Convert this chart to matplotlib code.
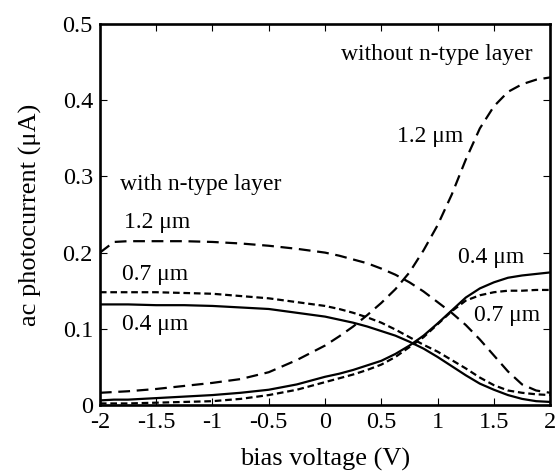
import matplotlib
matplotlib.use("Agg")
import matplotlib.pyplot as plt

plt.rcParams["font.family"] = ["Liberation Serif", "DejaVu Serif"]
plt.rcParams["axes.unicode_minus"] = False

# bias voltage (V) sampled along each curve
bias = [-2.0, -1.875, -1.75, -1.5, -1.25, -1.0, -0.75, -0.5, -0.25, 0.0,
        0.125, 0.25, 0.375, 0.5, 0.625, 0.75, 0.875, 1.0, 1.125, 1.25,
        1.375, 1.5, 1.625, 1.75, 1.875, 2.0]

# ac photocurrent (uA), with n-type layer
with_12 = [0.200, 0.214, 0.215, 0.215, 0.215, 0.214, 0.212, 0.209, 0.205, 0.200,
           0.196, 0.191, 0.186, 0.179, 0.171, 0.161, 0.149, 0.135, 0.121, 0.105,
           0.086, 0.065, 0.044, 0.027, 0.019, 0.016]
with_07 = [0.148, 0.148, 0.148, 0.148, 0.147, 0.146, 0.143, 0.140, 0.135, 0.130,
           0.126, 0.121, 0.115, 0.108, 0.099, 0.089, 0.079, 0.070, 0.059, 0.048,
           0.036, 0.026, 0.019, 0.016, 0.014, 0.013]
with_04 = [0.132, 0.132, 0.132, 0.131, 0.131, 0.130, 0.128, 0.126, 0.121, 0.116,
           0.112, 0.108, 0.103, 0.097, 0.091, 0.083, 0.074, 0.063, 0.051, 0.039,
           0.028, 0.020, 0.013, 0.008, 0.005, 0.004]

# ac photocurrent (uA), without n-type layer
without_12 = [0.016, 0.017, 0.018, 0.021, 0.025, 0.029, 0.034, 0.043, 0.059, 0.078,
              0.090, 0.103, 0.118, 0.134, 0.152, 0.174, 0.203, 0.236, 0.276, 0.322,
              0.363, 0.392, 0.411, 0.421, 0.427, 0.430]
without_07 = [0.002, 0.002, 0.002, 0.003, 0.004, 0.005, 0.008, 0.013, 0.020, 0.030,
              0.035, 0.040, 0.046, 0.053, 0.063, 0.076, 0.089, 0.106, 0.123, 0.137,
              0.144, 0.148, 0.150, 0.150, 0.151, 0.151]
without_04 = [0.006, 0.007, 0.007, 0.009, 0.011, 0.013, 0.016, 0.020, 0.027, 0.037,
              0.041, 0.046, 0.052, 0.058, 0.067, 0.078, 0.091, 0.107, 0.124, 0.141,
              0.153, 0.161, 0.167, 0.170, 0.172, 0.174]

xticks = [-2, -1.5, -1, -0.5, 0, 0.5, 1, 1.5, 2]
xtick_labels = ["-2", "-1.5", "-1", "-0.5", "0", "0.5", "1", "1.5", "2"]
yticks = [0, 0.1, 0.2, 0.3, 0.4, 0.5]
ytick_labels = ["0", "0.1", "0.2", "0.3", "0.4", "0.5"]

LONG = (0, (5.3, 3.0))
SHORT = (0, (3.0, 1.7))
FS = 17

fig = plt.figure(figsize=(5.58, 4.72), dpi=100)
ax = fig.add_axes([0.179, 0.142, 0.807, 0.807])

ax.plot(bias, with_12, color="black", lw=1.6, linestyle=LONG)
ax.plot(bias, with_07, color="black", lw=1.6, linestyle=SHORT)
ax.plot(bias, with_04, color="black", lw=1.6)
ax.plot(bias, without_12, color="black", lw=1.6, linestyle=LONG)
ax.plot(bias, without_07, color="black", lw=1.6, linestyle=SHORT)
ax.plot(bias, without_04, color="black", lw=1.6)

ax.text(-1.82, 0.289, "with n-type layer", fontsize=FS, va="center")
ax.text(-1.79, 0.240, "1.2 μm", fontsize=FS, va="center")
ax.text(-1.80, 0.171, "0.7 μm", fontsize=FS, va="center")
ax.text(-1.80, 0.105, "0.4 μm", fontsize=FS, va="center")
ax.text(1.84, 0.460, "without n-type layer", fontsize=FS, va="center", ha="right")
ax.text(0.64, 0.352, "1.2 μm", fontsize=FS, va="center")
ax.text(1.18, 0.193, "0.4 μm", fontsize=FS, va="center")
ax.text(1.32, 0.118, "0.7 μm", fontsize=FS, va="center")

ax.set_xlim(-2, 2)
ax.set_ylim(0, 0.5)
ax.set_xticks(xticks)
ax.set_xticklabels(xtick_labels)
ax.set_yticks(yticks)
ax.set_yticklabels(ytick_labels)
ax.tick_params(direction="in", length=5, width=0.8, top=True, right=True,
               labelsize=17.5, pad=5)
for s in ax.spines.values():
    s.set_linewidth(1.9)

ax.set_xlabel("bias voltage (V)", fontsize=19, labelpad=11)
ax.set_ylabel("ac photocurrent (μA)", fontsize=19, labelpad=15)

fig.savefig("out.png", dpi=100)
